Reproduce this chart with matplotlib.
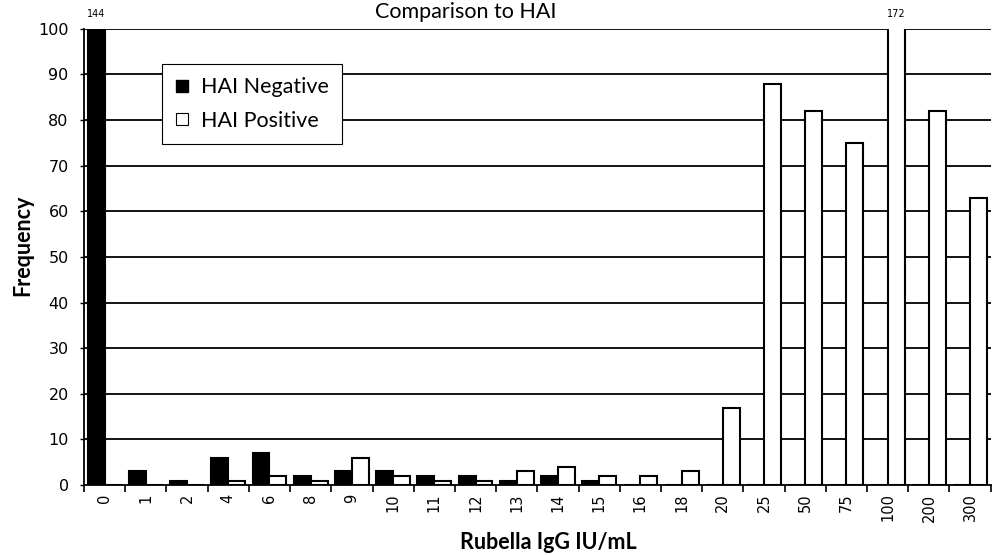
import matplotlib.pyplot as plt
from matplotlib.lines import Line2D
import numpy as np

# categories (Rubella IgG IU/mL) and frequencies
categories = ["0", "1", "2", "4", "6", "8", "9", "10", "11", "12", "13", "14",
              "15", "16", "18", "20", "25", "50", "75", "100", "200", "300"]
hai_negative = [144, 3, 1, 6, 7, 2, 3, 3, 2, 2, 1, 2, 1, 0, 0, 0, 0, 0, 0, 0, 0, 0]
hai_positive = [0, 0, 0, 1, 2, 1, 6, 2, 1, 1, 3, 4, 2, 2, 3, 17, 88, 82, 75, 172, 82, 63]
y_ticks = list(range(0, 101, 10))

label_font = "Lato"
tick_font = "DejaVu Sans"

fig = plt.figure(figsize=(9.92, 5.55), dpi=100)
ax = fig.add_axes([0.0847, 0.126, 0.914, 0.822])

x = np.arange(len(categories))
w = 0.41
ax.bar(x - w / 2, hai_negative, width=w, color="black", edgecolor="black", linewidth=1.5, zorder=3)
ax.bar(x + w / 2, hai_positive, width=w, color="white", edgecolor="black", linewidth=1.5, zorder=3)

ax.set_xlim(-0.5, len(categories) - 0.5)
ax.set_ylim(0, 100)

# values that run off the top of the scale
for i, v in enumerate(hai_negative):
    if v > 100:
        ax.text(x[i] - w / 2, 103.3, str(v), ha="center", va="center", fontsize=7,
                family=tick_font, clip_on=False)
for i, v in enumerate(hai_positive):
    if v > 100:
        ax.text(x[i] + w / 2, 103.3, str(v), ha="center", va="center", fontsize=7,
                family=tick_font, clip_on=False)

# grid
for yv in y_ticks[1:]:
    ax.axhline(yv, color="black", linewidth=1.3, zorder=1)

ax.set_yticks(y_ticks)
ax.set_yticklabels([str(t) for t in y_ticks], family=tick_font, fontsize=11.5)
ax.tick_params(axis="y", direction="out", length=3, width=1, pad=8)

# boundaries get the tick marks, centres get the labels
ax.set_xticks(np.arange(-0.5, len(categories), 1.0))
ax.set_xticklabels([])
ax.set_xticks(x, minor=True)
ax.set_xticklabels(categories, minor=True, rotation=90, family=tick_font, fontsize=10.5)
ax.tick_params(axis="x", which="major", direction="out", length=5, width=1.2)
ax.tick_params(axis="x", which="minor", length=0, pad=6)

for side in ["top", "right"]:
    ax.spines[side].set_visible(False)
ax.spines["left"].set_linewidth(1.3)
ax.spines["bottom"].set_linewidth(1.3)

fig.text(23 / 992, 1 - 245 / 555, "Frequency", rotation=90, ha="center", va="center",
         family=label_font, fontweight="bold", fontsize=15.5)
fig.text(548 / 992, 1 - 549 / 555, "Rubella IgG IU/mL", ha="center", va="baseline",
         family=label_font, fontweight="bold", fontsize=15.5)
fig.text(466 / 992, 1 - 18 / 555, "Comparison to HAI", ha="center", va="baseline",
         family=label_font, fontsize=15.5)

handles = [
    Line2D([], [], linestyle="none", marker="s", markersize=8.5, markerfacecolor="black", markeredgecolor="black"),
    Line2D([], [], linestyle="none", marker="s", markersize=8.5, markerfacecolor="white", markeredgecolor="black", markeredgewidth=0.8),
]
leg = ax.legend(handles, ["HAI Negative", "HAI Positive"], loc="upper left",
                bbox_to_anchor=(0.086, 0.923), borderaxespad=0, fancybox=False,
                framealpha=1, edgecolor="black", handlelength=0.6, handletextpad=0.6,
                borderpad=0.62, labelspacing=0.62, prop={"family": label_font, "size": 15.5})
leg.get_frame().set_linewidth(0.8)
leg.set_zorder(5)

fig.savefig("out.png", dpi=100)
